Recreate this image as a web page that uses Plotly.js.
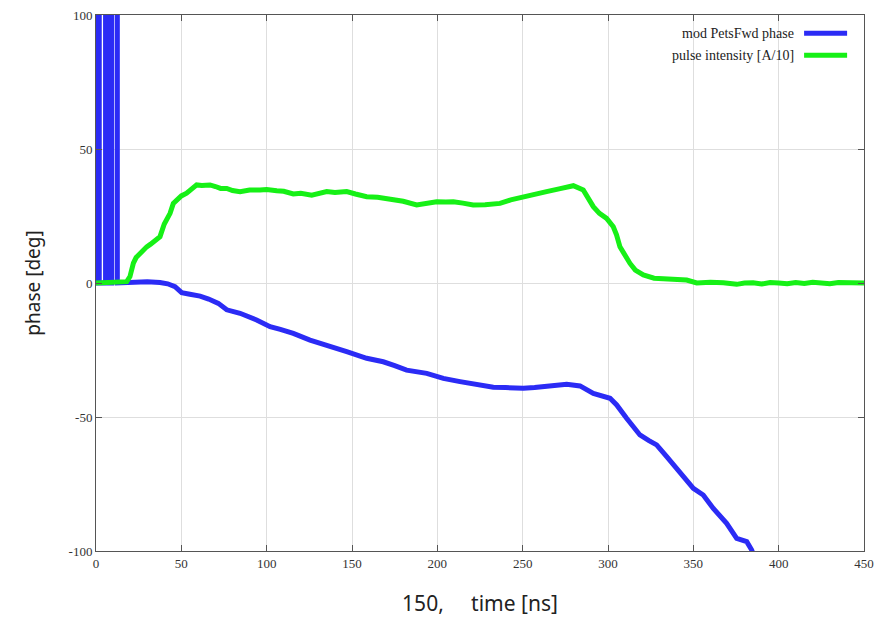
<!DOCTYPE html>
<html>
<head>
<meta charset="utf-8">
<script src="https://cdn.plot.ly/plotly-3.0.1.min.js"></script>
<style>html,body{margin:0;padding:0;background:#fff;}#chart{width:884px;height:619px;}</style>
</head>
<body>
<div id="chart"></div>
<script>
// Series names
var seriesNames = ["mod PetsFwd phase", "pulse intensity [A/10]"];

// Blue series: mod PetsFwd phase [deg] vs time [ns]
var blueTime = [0,1.0,1.0,1.9,1.9,5.6,5.6,6.6,6.6,7.6,7.6,8.6,8.6,9.2,9.2,12.5,12.5,
  20,30,37.5,42,46.3,50.2,55,61,66,71.7,76.6,84.4,94.1,102,108,115.6,125.4,135.2,146.9,158.6,
  168.3,175,182,193.8,203.5,213.3,221,232.8,240,250.4,257,264,270,275.8,283.6,
  291.4,301.2,305.1,310.9,318.7,324,328.5,334.4,342.2,350,355.8,361.7,369.5,375.4,381.3,384.2,386];
var bluePhase = [0,0,180,180,0,0,180,180,0,0,180,180,0,0,180,180,0,
  0.3,0.5,0.2,-0.3,-1.4,-3.6,-4.2,-4.9,-6,-7.6,-10,-11.3,-13.8,-16.3,-17.3,-18.8,-21.3,-23.1,-25.6,-28.1,
  -29.4,-30.8,-32.5,-33.7,-35.6,-36.8,-37.7,-38.9,-39,-39.3,-39,-38.4,-38,-37.8,-38.4,
  -41.2,-43,-45.5,-50.5,-56.7,-58.8,-60.4,-64.8,-71,-76.6,-79.1,-84.1,-89.7,-95.3,-96.5,-99.6,-103];

// Green series: pulse intensity [A/10] vs time [ns]
var greenTime = [0,5,10,15,18,19.9,21.9,23.5,25.8,29.7,32,34.6,37.5,40,43.4,45.3,47.3,50,53.1,57,
  59,62,66.8,70,73,76.6,80,84.4,90,96.1,100,105.9,110,115.6,120,126.4,130,135.2,140,146.9,
  152,158.6,165,174.2,180,187.9,193,199.6,205,209.4,215,221,228,236.7,243,250.4,257,264,272,279.7,
  285.5,288,291.4,295,299.2,303.1,305,307,310,312.9,316,320.7,327,334.4,340,346.1,352,360,367.6,375.4,
  380,385,390,395,400,405,410,415,420,425,430,435,440,445,450];
var greenVal = [0,0.1,0,0.2,0.5,2.4,7.4,9.5,11.1,13.5,14.5,16,17.3,22,26,29.7,31,32.5,33.5,35.3,
  36.6,36.4,36.6,36,35.3,35.3,34.5,34.1,34.7,34.7,34.9,34.4,34.2,33.2,33.5,32.8,33.4,34.1,33.8,34.1,
  33.2,32.2,32,31,30.5,29.1,29.8,30.3,30.2,30.3,29.8,29.1,29.2,29.7,31,32.2,33.2,34.1,35.2,36.3,
  34.7,32,28.5,26,24.1,21,18,13.5,10,7.3,4.8,3,1.8,1.4,1.2,1.1,0,0.3,0.1,-0.5,
  0,0.1,-0.4,0.2,0,-0.3,0.2,-0.2,0.3,0,-0.3,0.2,0,-0.2,0];

// Axis ticks
var xTicks = [0,50,100,150,200,250,300,350,400,450];
var yTicks = [-100,-50,0,50,100];

var blueColor = "#2b2bf5";
var greenColor = "#16f016";

var traces = [
  {x: blueTime, y: bluePhase, type: "scatter", mode: "lines", name: seriesNames[0],
   line: {color: blueColor, width: 5}, showlegend: false},
  {x: greenTime, y: greenVal, type: "scatter", mode: "lines", name: seriesNames[1],
   line: {color: greenColor, width: 5}, showlegend: false}
];

var serif = "Liberation Serif, Times New Roman, serif";
var axisCommon = {
  showline: true, linecolor: "#555", linewidth: 1, mirror: "ticks",
  ticks: "inside", ticklen: 6, tickcolor: "#555",
  showgrid: true, gridcolor: "#dedede", gridwidth: 1, zeroline: false,
  tickfont: {family: serif, size: 13, color: "#333"}
};

var layout = {
  width: 884, height: 619,
  margin: {l: 96, r: 20, t: 15, b: 68},
  paper_bgcolor: "#ffffff", plot_bgcolor: "#ffffff",
  showlegend: false,
  xaxis: Object.assign({}, axisCommon, {
    range: [0, 450], tickvals: xTicks, ticktext: xTicks.map(String),
    title: {text: "150,\u00a0\u00a0\u00a0\u00a0\u00a0time [ns]", font: {family: "Noto Sans, Open Sans, sans-serif", size: 21, color: "#222"}, standoff: 26}
  }),
  yaxis: Object.assign({}, axisCommon, {
    range: [-100, 100], tickvals: yTicks, ticktext: yTicks.map(String),
    title: {text: "phase [deg]", font: {family: "Noto Sans, Open Sans, sans-serif", size: 19, color: "#222"}, standoff: 22}
  }),
  annotations: [
    {xref: "paper", yref: "paper", x: 0.911, y: 0.966, xanchor: "right", yanchor: "middle",
     text: seriesNames[0], showarrow: false, font: {family: serif, size: 14, color: "#222"}},
    {xref: "paper", yref: "paper", x: 0.911, y: 0.925, xanchor: "right", yanchor: "middle",
     text: seriesNames[1], showarrow: false, font: {family: serif, size: 14, color: "#222"}}
  ],
  shapes: [
    {type: "line", xref: "paper", yref: "paper", x0: 0.922, x1: 0.978, y0: 0.966, y1: 0.966,
     line: {color: blueColor, width: 5}},
    {type: "line", xref: "paper", yref: "paper", x0: 0.922, x1: 0.978, y0: 0.925, y1: 0.925,
     line: {color: greenColor, width: 5}}
  ]
};

Plotly.newPlot("chart", traces, layout, {displayModeBar: false, staticPlot: true});
</script>
</body>
</html>
